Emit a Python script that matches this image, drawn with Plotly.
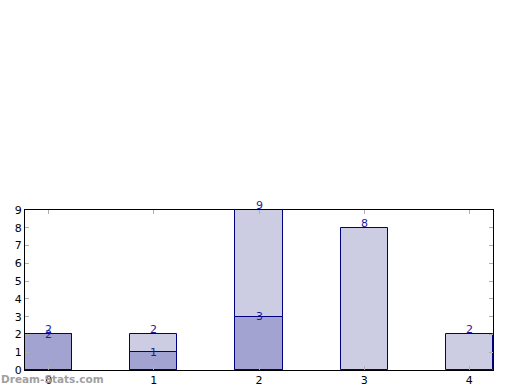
import plotly.graph_objects as go

categories = [0, 1, 2, 3, 4]
tick_labels = ["0", "1", "2", "3", "4"]
total_values = [2, 2, 9, 8, 2]
part_values = [2, 1, 3, 0, 0]

edge = "#000080"
light = "#cccce3"
dark = "#a3a3d1"
label_color = "#1a1aa6"

fig = go.Figure()
fig.add_bar(x=categories, y=total_values, width=0.45,
            marker=dict(color=light, line=dict(color=edge, width=1)), showlegend=False)
px = [c for c, v in zip(categories, part_values) if v > 0]
pv = [v for v in part_values if v > 0]
fig.add_bar(x=px, y=pv, width=0.45,
            marker=dict(color=dark, line=dict(color=edge, width=1)), showlegend=False)

lab_font = dict(color=label_color, size=11, family="DejaVu Sans")
for c, v in zip(categories, total_values):
    fig.add_annotation(x=c, y=v, text=str(v), showarrow=False, yanchor="bottom",
                       yshift=-4, font=lab_font)
for c, v in zip(px, pv):
    fig.add_annotation(x=c, y=v, text=str(v), showarrow=False, yanchor="middle",
                       yshift=0, font=lab_font)

axis_common = dict(showgrid=False, zeroline=False, showline=True, linecolor="black",
                   linewidth=1, mirror="ticks", ticks="inside", ticklen=4, automargin=False,
                   tickcolor="#b0b0b0", tickfont=dict(size=11, color="black", family="DejaVu Sans"))
fig.update_xaxes(range=[-0.225, 4.225], tickvals=categories, ticktext=tick_labels, **axis_common)
fig.update_yaxes(range=[0, 9], tickvals=list(range(10)), **axis_common)

fig.add_annotation(text="<b>Dream-Stats.com</b>", xref="paper", yref="paper", x=0, y=0,
                   xanchor="left", yanchor="top", xshift=-26, yshift=-1, showarrow=False,
                   font=dict(size=10.5, color="#a0a0a0", family="DejaVu Sans"))

fig.update_layout(width=520, height=390, barmode="overlay", bargap=0,
                  margin=dict(l=25, r=27, t=210, b=20, autoexpand=False),
                  plot_bgcolor="white", paper_bgcolor="white")
fig.write_html("out.html", config={"displayModeBar": False},
               post_script="document.body.style.margin='0px';document.body.style.overflow='hidden';")
